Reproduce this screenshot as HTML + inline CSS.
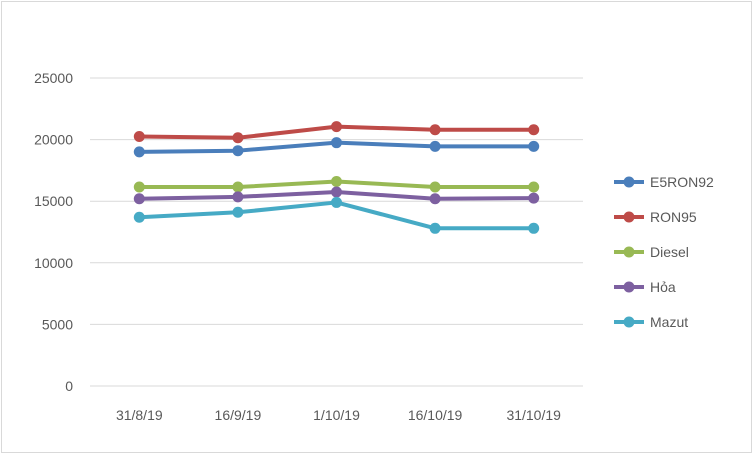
<!DOCTYPE html>
<html><head><meta charset="utf-8"><style>
body{margin:0;background:#fff}
svg{display:block;font-family:"Liberation Sans",sans-serif}
</style></head><body>
<svg id="chart" width="756" height="460">
<rect x="1.5" y="1.5" width="750" height="451" fill="#fff" stroke="#d9d9d9"/>
<g id="grid"></g><g id="series"></g><g id="legend"></g>
</svg>
<script>
const categories=["31/8/19","16/9/19","1/10/19","16/10/19","31/10/19"];
const yTicks=[0,5000,10000,15000,20000,25000];
const seriesNames=["E5RON92","RON95","Diesel","Hỏa","Mazut"];
const e5ron92=[19000,19100,19750,19450,19450];
const ron95=[20250,20150,21050,20800,20800];
const diesel=[16150,16150,16600,16150,16150];
const hoa=[15200,15350,15750,15200,15250];
const mazut=[13700,14100,14900,12800,12800];
const colors=["#4a7ebb","#be4b48","#98b954","#7d60a0","#46aac5"];
const allSeries=[e5ron92,ron95,diesel,hoa,mazut];
const NS="http://www.w3.org/2000/svg";
const x0=90,x1=583,yTop=78,yBot=386,yMax=25000;
const xs=i=>x0+(x1-x0)*(i+0.5)/categories.length;
const ys=v=>yBot-(yBot-yTop)*v/yMax;
function mk(t,a,p){const e=document.createElementNS(NS,t);for(const k in a)e.setAttribute(k,a[k]);p.appendChild(e);return e;}
const g=document.getElementById('grid');
yTicks.forEach(v=>{
 const l=mk('line',{x1:x0,x2:x1,y1:ys(v),y2:ys(v),stroke:'#d9d9d9','stroke-width':1},g);
 
 
 const t=mk('text',{x:73,y:ys(v)+5,'text-anchor':'end','font-size':14,fill:'#595959'},g);
 t.textContent=v;
 
 
});
categories.forEach((c,i)=>{
 const t=mk('text',{x:xs(i),y:420,'text-anchor':'middle','font-size':14,fill:'#595959'},g);
 t.textContent=c;
 
 
});
const s=document.getElementById('series');
allSeries.forEach((d,k)=>{
 const grp=mk('g',{},s);
 
 
 const pl=mk('polyline',{points:d.map((v,i)=>xs(i)+','+ys(v)).join(' '),fill:'none',stroke:colors[k],'stroke-width':4,'stroke-linejoin':'round'},grp);
 
 
 d.forEach((v,i)=>{
  const c=mk('circle',{cx:xs(i),cy:ys(v),r:5.5,fill:colors[k]},grp);
  
  
 });
});
const lg=document.getElementById('legend');
seriesNames.forEach((n,k)=>{
 const y=182+35*k;
 const e=mk('g',{},lg);
 
 
 mk('line',{x1:614,x2:644,y1:y,y2:y,stroke:colors[k],'stroke-width':4},e);
 mk('circle',{cx:629,cy:y,r:5.5,fill:colors[k]},e);
 const t=mk('text',{x:650,y:y+5,'font-size':14,fill:'#595959'},e);
 t.textContent=n;
});
</script>
</body></html>
